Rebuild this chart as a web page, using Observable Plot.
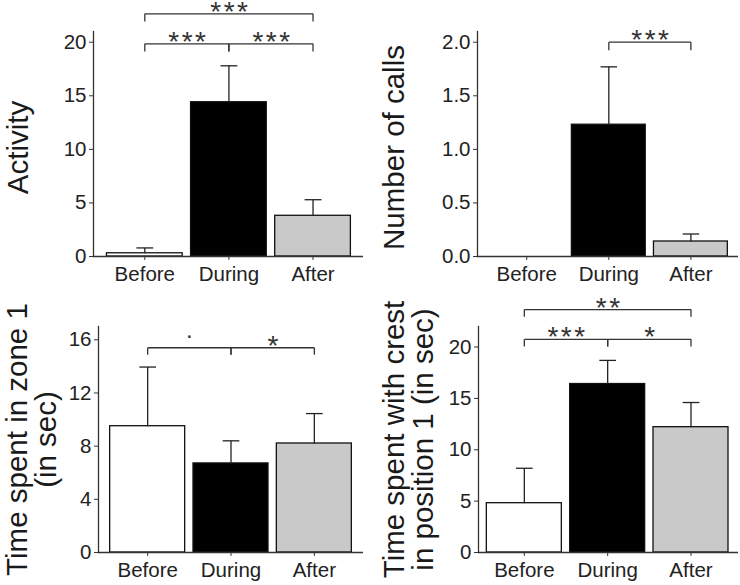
<!DOCTYPE html>
<html><head><meta charset="utf-8">
<script src="https://cdn.jsdelivr.net/npm/d3@7"></script>
<script src="https://cdn.jsdelivr.net/npm/@observablehq/plot@0.6"></script>
<style>
body{margin:0;background:#fff;}
#chart{position:relative;width:740px;height:585px;overflow:hidden;background:#fff;font-family:"Liberation Sans",Arial,sans-serif;}
.panel{position:absolute;}
</style></head><body><div id="chart"></div>
<script>
// ---- data ----
const categories = ["Before", "During", "After"];

const activityMean = [0.3, 14.4, 3.8];
const activitySE   = [0.5, 3.4, 1.5];
const activityTicks = [0, 5, 10, 15, 20];
const activitySig = [
  {a: 0, b: 1, label: "***", level: 19.85},
  {a: 1, b: 2, label: "***", level: 19.85},
  {a: 0, b: 2, label: "***", level: 22.65}
];

const callsMean = [0, 1.23, 0.14];
const callsSE   = [0, 0.54, 0.07];
const callsTicks = [0, 0.5, 1, 1.5, 2];
const callsSig = [
  {a: 1, b: 2, label: "***", level: 2.0}
];

const zoneMean = [9.5, 6.7, 8.2];
const zoneSE   = [4.45, 1.7, 2.25];
const zoneTicks = [0, 4, 8, 12, 16];
const zoneSig = [
  {a: 0, b: 1, label: ".", level: 15.4},
  {a: 1, b: 2, label: "*", level: 15.4}
];

const crestMean = [4.8, 16.4, 12.2];
const crestSE   = [3.4, 2.3, 2.4];
const crestTicks = [0, 5, 10, 15, 20];
const crestSig = [
  {a: 0, b: 1, label: "***", level: 20.75},
  {a: 1, b: 2, label: "*", level: 20.75},
  {a: 0, b: 2, label: "**", level: 23.65}
];

// ---- styling ----
const barFills = ["#ffffff", "#000000", "#c9c9c9"];
const ink = "#222";
const FONT = '"Liberation Sans", Arial, sans-serif';

const panels = [
  {left: 0, top: 0, width: 370, height: 290, ml: 93, mr: 7, mt: 31, mb: 34,
   xd: [-0.61, 2.6], yd: [0, 21], mean: activityMean, se: activitySE, ticks: activityTicks,
   fmt: d3.format("d"), sig: activitySig, drop: 0.72, label: "Activity", ldx: -66, ldy: 3.5},
  {left: 370, top: 0, width: 370, height: 290, ml: 107, mr: 2, mt: 31, mb: 34,
   xd: [-0.6, 2.58], yd: [0, 2.1], mean: callsMean, se: callsSE, ticks: callsTicks,
   fmt: d3.format(".1f"), sig: callsSig, drop: 0.075, label: "Number of calls", ldx: -74, ldy: 3.5},
  {left: 0, top: 290, width: 370, height: 295, ml: 98, mr: 7, mt: 36, mb: 33,
   xd: [-0.59, 2.59], yd: [0, 17], mean: zoneMean, se: zoneSE, ticks: zoneTicks,
   fmt: d3.format("d"), sig: zoneSig, drop: 0.52, label: "Time spent in zone 1\n(in sec)", ldx: -43, ldy: 0},
  {left: 370, top: 290, width: 370, height: 295, ml: 108, mr: 2, mt: 36, mb: 33,
   xd: [-0.55, 2.57], yd: [0, 22], mean: crestMean, se: crestSE, ticks: crestTicks,
   fmt: d3.format("d"), sig: crestSig, drop: 0.7, label: "Time spent with crest\nin position 1 (in sec)", ldx: -46, ldy: 0}
];

const chart = document.getElementById("chart");

for (const p of panels) {
  const data = categories.map((c, i) => ({cat: c, i, mean: p.mean[i], se: p.se[i]}));
  const err = data.filter(d => d.se > 0);
  const segs = [];
  for (const s of p.sig) {
    segs.push({x1: s.a, x2: s.b, y1: s.level, y2: s.level});
    segs.push({x1: s.a, x2: s.a, y1: s.level, y2: s.level - p.drop});
    segs.push({x1: s.b, x2: s.b, y1: s.level, y2: s.level - p.drop});
  }
  const stars = p.sig.filter(s => s.label.startsWith("*"));
  const dots = p.sig.filter(s => !s.label.startsWith("*"));

  const svg = Plot.plot({
    width: p.width, height: p.height,
    marginLeft: p.ml, marginRight: p.mr, marginTop: p.mt, marginBottom: p.mb,
    x: {domain: p.xd},
    y: {domain: p.yd},
    color: {type: "identity"},
    style: {fontFamily: FONT, fontSize: "20.5px", color: ink, background: "white"},
    marks: [
      Plot.rect(data, {x1: d => d.i - 0.45, x2: d => d.i + 0.45, y1: () => 0, y2: "mean",
        fill: d => barFills[d.i], stroke: "#111", strokeWidth: 1.3}),
      Plot.link(err, {x1: "i", x2: "i", y1: "mean", y2: d => d.mean + d.se, stroke: "#222", strokeWidth: 1.3}),
      Plot.link(err, {x1: d => d.i - 0.1, x2: d => d.i + 0.1, y1: d => d.mean + d.se, y2: d => d.mean + d.se, stroke: "#222", strokeWidth: 1.3}),
      Plot.ruleY([0], {stroke: "#333", strokeWidth: 1.3}),
      Plot.frame({anchor: "left", stroke: "#333", strokeWidth: 1.3}),
      Plot.axisY({ticks: p.ticks, tickFormat: p.fmt, tickSize: 4, tickPadding: 3, label: null, stroke: "#333"}),
      Plot.axisX({ticks: [0, 1, 2], tickFormat: i => categories[i], tickSize: 4, tickPadding: 6, label: null, stroke: "#333"}),
      Plot.link(segs, {x1: "x1", x2: "x2", y1: "y1", y2: "y2", stroke: "#333", strokeWidth: 1.3}),
      Plot.text(stars, {x: d => (d.a + d.b) / 2, y: "level", text: "label", lineAnchor: "bottom",
        textAnchor: "middle", dy: 7, dx: 1.5, fontSize: 28, fill: "#333"}),
      Plot.text(dots, {x: d => (d.a + d.b) / 2, y: "level", text: "label", lineAnchor: "bottom",
        textAnchor: "middle", dy: -10, fontSize: 24, fill: "#333"}),
      Plot.text([p.label], {text: d => d, frameAnchor: "left", rotate: -90, textAnchor: "middle",
        lineAnchor: "bottom", dx: p.ldx, dy: p.ldy, fontSize: 29.5, lineHeight: 0.96, fill: "#1a1a1a"})
    ]
  });
  svg.querySelectorAll("text").forEach(t => {
    if (/^\*+$/.test(t.textContent)) t.style.letterSpacing = "2.5px";
  });
  svg.classList.add("panel");
  svg.style.left = p.left + "px";
  svg.style.top = p.top + "px";
  svg.style.position = "absolute";
  chart.appendChild(svg);
}
</script>
</body></html>
